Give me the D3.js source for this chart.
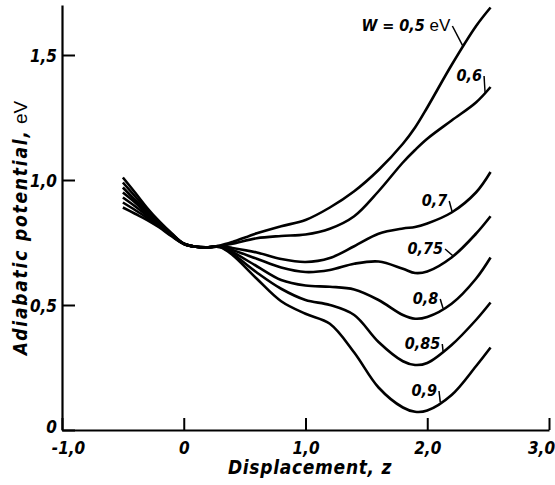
<!DOCTYPE html>
<html>
<head>
<meta charset="utf-8">
<script src="https://cdn.jsdelivr.net/npm/d3@7"></script>
<style>
  body { margin: 0; background: #fff; }
  svg { display: block; }
  .lbl { font-family: "DejaVu Sans Condensed", "Liberation Sans Narrow", "DejaVu Sans", sans-serif;
         font-style: italic; font-weight: bold; font-stretch: condensed; }
  .plain { font-family: "Liberation Sans", "DejaVu Sans", sans-serif; font-style: normal; font-weight: normal; letter-spacing: 0; }
</style>
</head>
<body>
<svg id="chart"></svg>
<script>
// Displacement grid (z) shared by all curves
const zGrid = [-0.5, -0.4, -0.3, -0.2, -0.1, 0, 0.1, 0.2, 0.3, 0.4, 0.6, 0.8, 1.0, 1.2, 1.4, 1.6, 1.8, 1.9, 2.0, 2.2, 2.4, 2.52];

// Adiabatic potential (eV) for each coupling W
const w050 = [0.89, 0.865, 0.84, 0.81, 0.775, 0.745, 0.733, 0.731, 0.738, 0.752, 0.787, 0.815, 0.84, 0.89, 0.955, 1.04, 1.145, 1.21, 1.29, 1.46, 1.615, 1.69];
const w060 = [0.91, 0.88, 0.848, 0.814, 0.777, 0.745, 0.733, 0.731, 0.737, 0.745, 0.767, 0.776, 0.782, 0.805, 0.855, 0.955, 1.07, 1.12, 1.165, 1.238, 1.31, 1.372];
const w070 = [0.93, 0.895, 0.856, 0.818, 0.779, 0.745, 0.733, 0.731, 0.735, 0.728, 0.71, 0.684, 0.672, 0.688, 0.735, 0.785, 0.806, 0.812, 0.826, 0.87, 0.95, 1.032];
const w075 = [0.95, 0.91, 0.864, 0.822, 0.781, 0.745, 0.733, 0.731, 0.734, 0.72, 0.685, 0.65, 0.632, 0.64, 0.665, 0.674, 0.645, 0.628, 0.634, 0.69, 0.785, 0.855];
const w080 = [0.97, 0.92, 0.872, 0.826, 0.783, 0.745, 0.733, 0.731, 0.733, 0.712, 0.655, 0.60, 0.578, 0.573, 0.562, 0.52, 0.46, 0.445, 0.452, 0.505, 0.605, 0.69];
const w085 = [0.99, 0.935, 0.88, 0.83, 0.785, 0.745, 0.733, 0.731, 0.732, 0.705, 0.63, 0.565, 0.52, 0.50, 0.46, 0.352, 0.275, 0.26, 0.268, 0.34, 0.44, 0.51];
const w090 = [1.01, 0.95, 0.888, 0.834, 0.787, 0.745, 0.733, 0.731, 0.731, 0.70, 0.605, 0.515, 0.465, 0.425, 0.31, 0.17, 0.09, 0.073, 0.078, 0.14, 0.255, 0.33];

const seriesValues = [w050, w060, w070, w075, w080, w085, w090];
const curveNames = ["W = 0,5", "0,6", "0,7", "0,75", "0,8", "0,85", "0,9"];

// Curve label anchors (label end z, label baseline eV, z where the leader meets the curve)
const labelZ = [2.19, 2.45, 2.164, 2.13, 2.09, 2.107, 2.08];
const labelV = [1.596, 1.396, 0.896, 0.704, 0.504, 0.324, 0.136];
const leaderZ = [2.295, 2.475, 2.205, 2.213, 2.13, 2.13, 2.107];

// Tick labels
const xTicks = [-1, 0, 1, 2, 3];
const yTicks = [0, 0.5, 1.0, 1.5];

const width = 555, height = 485;
const svg = d3.select("#chart")
              .attr("width", width)
              .attr("height", height);

const x = d3.scaleLinear().domain([-1, 3]).range([62, 549]);
const y = d3.scaleLinear().domain([0, 1.7]).range([430, 5]);

// comma decimals, plain hyphen for the minus sign
const fmt = d => d === 0 ? "0" : d3.format(".1f")(d).replace(".", ",").replace("\u2212", "-");

// X axis, ticks pointing up
const xAxis = svg.append("g")
   .attr("transform", `translate(0, ${y(0)})`)
   .call(d3.axisBottom(x).tickValues(xTicks).tickFormat(fmt).tickSizeInner(-12).tickSizeOuter(0).tickPadding(11));

// Y axis, ticks pointing right
const yAxis = svg.append("g")
   .attr("transform", `translate(${x(-1)}, 0)`)
   .call(d3.axisLeft(y).tickValues(yTicks).tickFormat(fmt).tickSizeInner(-13).tickSizeOuter(0).tickPadding(5));

[xAxis, yAxis].forEach(g => {
    g.select(".domain").attr("stroke", "#000").attr("stroke-width", 2.2);
    g.selectAll(".tick line").attr("stroke", "#000").attr("stroke-width", 2);
    g.selectAll(".tick text")
     .attr("class", "lbl")
     .attr("fill", "#000")
     .style("font-size", "17px");
});
xAxis.selectAll(".tick text").attr("dy", "0.75em");
xAxis.selectAll(".tick text").filter(d => d === -1).attr("dx", 6);
xAxis.selectAll(".tick text").filter(d => d === 3).attr("dx", -8);
yAxis.selectAll(".tick text").attr("dy", "0.4em");
yAxis.selectAll(".tick text").filter(d => d === 0).attr("dy", "0.15em");

// Curves
const line = d3.line()
               .x(d => x(d[0]))
               .y(d => y(d[1]))
               .curve(d3.curveCatmullRom.alpha(0.5));

seriesValues.forEach(vals => {
    svg.append("path")
       .datum(zGrid.map((z, i) => [z, vals[i]]))
       .attr("d", line)
       .attr("fill", "none")
       .attr("stroke", "#000")
       .attr("stroke-width", 2.6)
       .attr("stroke-linejoin", "round");
});

// Curve labels with small leader strokes
seriesValues.forEach((vals, i) => {
    const interp = d3.scaleLinear().domain(zGrid).range(vals);
    const lx = x(labelZ[i]), ly = y(labelV[i]);
    const t = svg.append("text")
       .attr("class", "lbl")
       .attr("x", lx)
       .attr("y", ly)
       .attr("text-anchor", "end")
       .style("font-size", "16px");
    t.append("tspan").text(curveNames[i]);
    if (i === 0) t.append("tspan").attr("class", "plain").style("font-size", "17px").text(" eV");

    svg.append("line")
       .attr("x1", lx + 2)
       .attr("y1", ly - 5)
       .attr("x2", x(leaderZ[i]))
       .attr("y2", y(interp(leaderZ[i])))
       .attr("stroke", "#000")
       .attr("stroke-width", 1.5);
});

// Axis titles
const yTitle = svg.append("text")
   .attr("class", "lbl")
   .attr("text-anchor", "middle")
   .attr("transform", `translate(27, 228) rotate(-90)`)
   .style("font-size", "19px")
   .style("letter-spacing", "1.8px");
yTitle.append("tspan").text("Adiabatic  potential,");
yTitle.append("tspan").attr("class", "plain").text(" eV");

svg.append("text")
   .attr("class", "lbl")
   .attr("text-anchor", "middle")
   .attr("x", 310)
   .attr("y", 474)
   .style("font-size", "19px")
   .style("letter-spacing", "0.7px")
   .text("Displacement, z");
</script>
</body>
</html>
